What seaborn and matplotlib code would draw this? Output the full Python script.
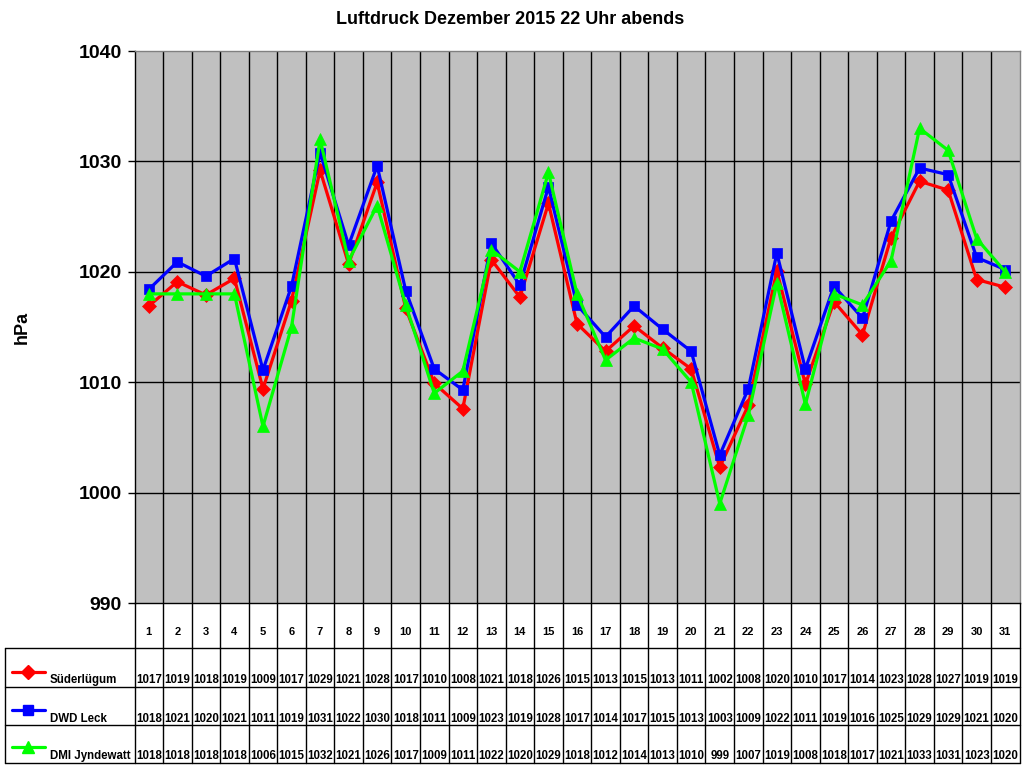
import matplotlib
matplotlib.use("Agg")
import matplotlib.pyplot as plt
import seaborn as sns
import pandas as pd
import numpy as np

tage = list(range(1, 32))
stationen = ["Süderlügum", "DWD Leck", "DMI Jyndewatt"]
farben = ["#FF0000", "#0000FF", "#00FF00"]
marker = ["D", "s", "^"]

suederluegum = [1016.9, 1019.1, 1017.9, 1019.4, 1009.4, 1017.4, 1029.2, 1020.7, 1028.1, 1016.7,
                1009.9, 1007.6, 1021.1, 1017.7, 1026.2, 1015.3, 1012.8, 1015.1, 1013.1, 1011.2,
                1002.3, 1007.9, 1020.1, 1009.8, 1017.3, 1014.3, 1023.1, 1028.2, 1027.4, 1019.3, 1018.6]
dwd_leck = [1018.4, 1020.9, 1019.6, 1021.2, 1011.1, 1018.7, 1030.8, 1022.4, 1029.6, 1018.3,
            1011.2, 1009.3, 1022.6, 1018.8, 1027.7, 1017.0, 1014.1, 1016.9, 1014.8, 1012.8,
            1003.4, 1009.4, 1021.7, 1011.2, 1018.7, 1015.8, 1024.6, 1029.4, 1028.8, 1021.3, 1020.2]
dmi_jyndewatt = [1018, 1018, 1018, 1018, 1006, 1015, 1032, 1021, 1026, 1017,
                 1009, 1011, 1022, 1020, 1029, 1018, 1012, 1014, 1013, 1010,
                 999, 1007, 1019, 1008, 1018, 1017, 1021, 1033, 1031, 1023, 1020]
werte = [suederluegum, dwd_leck, dmi_jyndewatt]

df = pd.concat([pd.DataFrame({"Tag": tage, "hPa": w, "Station": s})
                for s, w in zip(stationen, werte)], ignore_index=True)

sns.set_style("white")
plt.rcParams["font.family"] = ["Liberation Sans", "DejaVu Sans"]
plt.rcParams["font.weight"] = "bold"
plt.rcParams["text.color"] = "black"
plt.rcParams["ytick.color"] = "black"
plt.rcParams["xtick.color"] = "black"
plt.rcParams["axes.labelcolor"] = "black"

W, H = 1024, 768
fig = plt.figure(figsize=(W / 100, H / 100), dpi=100)

# plot area in pixels
px_l, px_r, px_t, px_b = 134.5, 1019.5, 51, 603
ax = fig.add_axes([px_l / W, 1 - px_b / H, (px_r - px_l) / W, (px_b - px_t) / H])
ax.set_facecolor("#C0C0C0")

for s, c, m in zip(stationen, farben, marker):
    sns.lineplot(data=df[df["Station"] == s], x="Tag", y="hPa", color=c, marker=m,
                 markersize=9 if m == "^" else 7.5, markeredgecolor=c, markeredgewidth=0.5,
                 linewidth=2.3, ax=ax, legend=False)

ax.set_xlim(0.5, 31.5)
ax.set_ylim(990, 1040)
ax.set_yticks([990, 1000, 1010, 1020, 1030, 1040])
ax.set_yticklabels(["990", "1000", "1010", "1020", "1030", "1040"], fontsize=14, fontweight="bold")
ax.set_xticks([])
ax.set_xlabel("")
ax.set_ylabel("")
ax.tick_params(axis="y", direction="out", length=5, width=1, color="black", labelcolor="black",
               pad=4, left=True)
for y in [1000, 1010, 1020, 1030]:
    ax.axhline(y, color="black", lw=1, zorder=1)
for x in np.arange(1.5, 31, 1):
    ax.axvline(x, color="black", lw=1, zorder=1)
ax.spines["left"].set_color("black")
ax.spines["bottom"].set_color("black")
ax.spines["top"].set_color("#808080")
ax.spines["right"].set_color("#808080")
for sp in ax.spines.values():
    sp.set_linewidth(1)

fig.text(510 / W, 1 - 20 / H, "Luftdruck Dezember 2015 22 Uhr abends", ha="center", va="center",
         fontsize=13, fontweight="bold", color="black")
fig.text(22 / W, 1 - 327 / H, "hPa", rotation=90, ha="center", va="center",
         fontsize=13, fontweight="bold", color="black")

# data table below
ppu = (px_r - px_l) / 31
tx_l = 0.5 - (px_l - 5) / ppu
t_top, t_bot = 603, 763
ta = fig.add_axes([5 / W, 1 - t_bot / H, (px_r - 5) / W, (t_bot - t_top) / H])
ta.set_xlim(tx_l, 31.5)
ta.set_ylim(t_bot, t_top)
ta.axis("off")

def px2x(p):
    return 0.5 + (p - px_l) / ppu

rows_y = [648, 687, 725, 763]
for y in rows_y:
    ta.plot([tx_l, 31.5], [y, y], color="black", lw=1, clip_on=False)
for x in np.arange(0.5, 32, 1):
    ta.plot([x, x], [t_top, t_bot], color="black", lw=1, clip_on=False)
ta.plot([tx_l, tx_l], [648, t_bot], color="black", lw=1, clip_on=False)

for t in tage:
    ta.text(t, 632, str(t), ha="center", va="center", fontsize=8, fontweight="bold", color="black")

baselines = [683, 722, 759]
key_y = [672, 710, 747]
for s, w, c, m, yb, yk in zip(stationen, werte, farben, marker, baselines, key_y):
    for t, v in zip(tage, w):
        ta.text(t, yb, str(int(round(v))), ha="center", va="baseline", fontsize=8.3,
                fontweight="bold", color="black")
    ta.plot([px2x(12), px2x(45)], [yk, yk], color=c, lw=2.3, clip_on=False)
    ta.plot([px2x(28.5)], [yk], color=c, marker=m, markersize=9 if m == "^" else 7.5,
            markeredgecolor=c, clip_on=False)
    ta.text(px2x(50), yb, s, ha="left", va="baseline", fontsize=8.3, fontweight="bold", color="black")

fig.savefig("out.png", dpi=100)
